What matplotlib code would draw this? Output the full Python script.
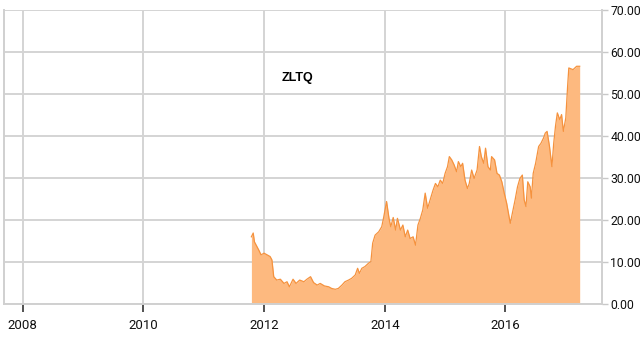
import matplotlib.pyplot as plt
import numpy as np

# price series (decimal year, value)
years = [2011.79, 2011.82, 2011.84, 2011.87, 2011.91, 2011.95, 2012.00, 2012.05,
         2012.10, 2012.13, 2012.16, 2012.21, 2012.27, 2012.33, 2012.38, 2012.42,
         2012.48, 2012.53, 2012.59, 2012.66, 2012.71, 2012.77, 2012.82, 2012.88,
         2012.93, 2013.00, 2013.07, 2013.12, 2013.18, 2013.23, 2013.29, 2013.34,
         2013.40, 2013.45, 2013.51, 2013.55, 2013.58, 2013.62, 2013.67, 2013.73,
         2013.77, 2013.80, 2013.84, 2013.90, 2013.95, 2013.98, 2014.03, 2014.07,
         2014.10, 2014.14, 2014.18, 2014.21, 2014.26, 2014.30, 2014.34, 2014.38,
         2014.42, 2014.47, 2014.51, 2014.55, 2014.59, 2014.63, 2014.67, 2014.71,
         2014.76, 2014.80, 2014.84, 2014.88, 2014.92, 2014.96, 2015.00, 2015.04,
         2015.07, 2015.11, 2015.15, 2015.19, 2015.22, 2015.26, 2015.29, 2015.33,
         2015.37, 2015.40, 2015.44, 2015.48, 2015.53, 2015.57, 2015.60, 2015.64,
         2015.67, 2015.71, 2015.75, 2015.77, 2015.82, 2015.86, 2015.90, 2015.94,
         2015.98, 2016.02, 2016.06, 2016.08, 2016.12, 2016.16, 2016.20, 2016.24,
         2016.28, 2016.31, 2016.34, 2016.37, 2016.41, 2016.43, 2016.46, 2016.50,
         2016.55, 2016.59, 2016.63, 2016.66, 2016.69, 2016.73, 2016.77, 2016.80,
         2016.83, 2016.86, 2016.90, 2016.93, 2016.96, 2017.00, 2017.03, 2017.05,
         2017.12, 2017.18, 2017.23]
values = [16.0, 16.9, 14.8, 14.0, 12.9, 11.7, 12.1, 11.7,
          11.3, 10.5, 6.5, 5.7, 5.9, 4.9, 5.3, 4.1,
          5.9, 4.9, 5.7, 5.3, 5.9, 6.5, 5.1, 4.5,
          4.9, 4.3, 4.1, 3.7, 3.5, 3.7, 4.5, 5.3,
          5.7, 6.1, 6.9, 8.5, 7.3, 8.5, 8.9, 9.7,
          10.1, 14.5, 16.4, 17.2, 18.4, 20.5, 24.4, 20.4,
          18.4, 20.6, 17.6, 20.4, 17.6, 18.8, 16.0, 17.6,
          15.6, 16.0, 14.0, 18.8, 20.4, 22.4, 26.4, 22.8,
          25.2, 27.1, 28.7, 27.9, 29.5, 28.7, 31.1, 32.7,
          35.1, 34.3, 33.1, 31.5, 33.9, 32.7, 33.5, 29.5,
          27.5, 28.7, 31.9, 29.9, 31.9, 37.5, 35.1, 33.5,
          37.1, 32.7, 31.9, 35.1, 34.3, 31.1, 30.7, 29.1,
          26.4, 24.0, 20.8, 19.2, 22.0, 24.8, 27.9, 29.9,
          30.7, 24.8, 23.2, 29.1, 27.9, 25.2, 31.1, 33.5,
          37.5, 38.3, 39.5, 40.7, 41.1, 37.5, 32.7, 38.3,
          42.4, 45.5, 43.9, 45.1, 41.1, 44.3, 51.8, 56.2,
          55.8, 56.6, 56.6]

year_ticks = [2008, 2010, 2012, 2014, 2016]
value_ticks = [0, 10, 20, 30, 40, 50, 60, 70]

fig = plt.figure(figsize=(6.4, 3.6), dpi=100)
ax = fig.add_axes([4 / 640, 56 / 360, 598 / 640, 294 / 360])

x = np.array(years)
y = np.array(values)
ax.fill_between(x, 0, y, color='#fdb97f', linewidth=0, zorder=2)
ax.plot(x, y, color='#f5923e', linewidth=0.9, zorder=3)

ax.set_xlim(2007.69, 2017.6)
ax.set_ylim(0, 70)
ax.set_xticks(year_ticks)
ax.set_yticks(value_ticks)
ax.set_yticklabels(['%.2f' % v for v in value_ticks])

ax.grid(True, color='#d4d4d4', linewidth=1.4, zorder=0)
ax.set_axisbelow(True)
ax.yaxis.tick_right()

fnt = ['Roboto', 'DejaVu Sans']
for lab in ax.get_yticklabels():
    lab.set_family(fnt)
    lab.set_fontsize(8.8)
    lab.set_color('#111111')
for lab in ax.get_xticklabels():
    lab.set_family(fnt)
    lab.set_fontsize(9.5)
    lab.set_color('#111111')

ax.tick_params(axis='x', length=6, width=1.2, color='#333333', pad=5)
ax.tick_params(axis='y', length=4, width=1.0, color='#c8c8c8', pad=2)

for s in ['left', 'bottom', 'right']:
    ax.spines[s].set_color('#d0d0d0')
    ax.spines[s].set_linewidth(1.4)
ax.spines['top'].set_visible(False)

ax.text(0.49, 0.77, 'ZLTQ', transform=ax.transAxes, fontsize=9,
        fontweight='bold', family=['Liberation Sans', 'DejaVu Sans'],
        ha='center', va='center')

fig.savefig('out.png', dpi=100, facecolor='white')
